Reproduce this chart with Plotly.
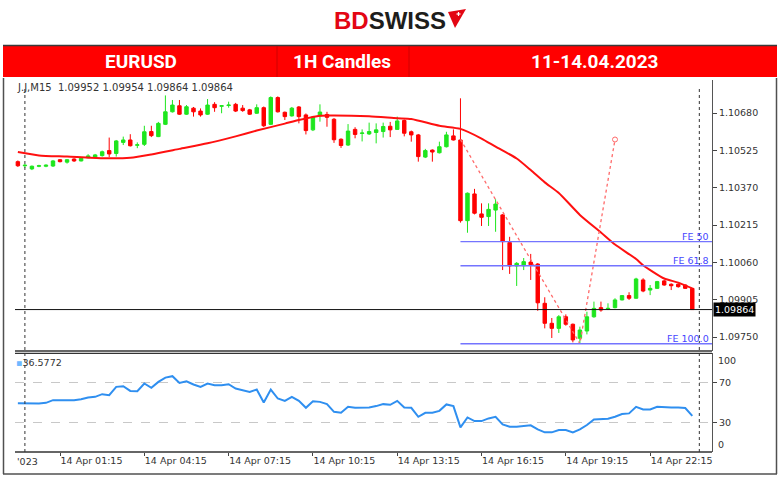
import pandas as pd
import plotly.graph_objects as go

W, H = 780, 478

# ---------------- data ----------------
start_time = "2023-04-13 23:45"
opens = [1.10478,1.10461,1.10448,1.10459,1.10459,1.10460,1.10486,1.10476,1.10489,1.10481,
         1.10494,1.10497,1.10503,1.10524,1.10512,1.10558,1.10568,1.10546,1.10550,1.10603,
         1.10582,1.10633,1.10685,1.10710,1.10675,1.10700,1.10688,1.10675,1.10716,1.10708,
         1.10711,1.10716,1.10700,1.10693,1.10679,1.10702,1.10633,1.10744,1.10683,1.10668,
         1.10705,1.10672,1.10610,1.10668,1.10674,1.10654,1.10571,1.10547,1.10612,1.10595,
         1.10593,1.10599,1.10603,1.10625,1.10612,1.10649,1.10602,1.10589,1.10497,1.10526,
         1.10515,1.10540,1.10585,1.10568,1.10233,1.10344,1.10261,1.10250,1.10277,1.10257,
         1.10142,1.10045,1.10046,1.10061,1.10053,1.09890,1.09807,1.09786,1.09834,1.09803,
         1.09745,1.09775,1.09834,1.09872,1.09867,1.09872,1.09904,1.09922,1.09911,1.09987,
         1.09945,1.09952,1.09983,1.09969,1.09969,1.09966,1.09952]
highs = [1.10483,1.10468,1.10462,1.10465,1.10467,1.10485,1.10489,1.10489,1.10492,1.10495,
         1.10509,1.10510,1.10524,1.10578,1.10568,1.10582,1.10592,1.10558,1.10627,1.10627,
         1.10643,1.10753,1.10734,1.10734,1.10713,1.10705,1.10699,1.10738,1.10725,1.10712,
         1.10727,1.10722,1.10713,1.10697,1.10716,1.10707,1.10749,1.10749,1.10686,1.10705,
         1.10709,1.10678,1.10668,1.10716,1.10685,1.10659,1.10575,1.10634,1.10621,1.10612,
         1.10640,1.10637,1.10640,1.10643,1.10665,1.10653,1.10607,1.10593,1.10531,1.10529,
         1.10561,1.10602,1.10612,1.10741,1.10350,1.10365,1.10305,1.10305,1.10322,1.10261,
         1.10166,1.10061,1.10078,1.10095,1.10057,1.09915,1.09829,1.09841,1.09844,1.09806,
         1.09793,1.09855,1.09897,1.09897,1.09890,1.09911,1.09924,1.09936,1.09996,1.09994,
         1.09966,1.09983,1.09987,1.09973,1.09973,1.09968,1.09954]
lows = [1.10456,1.10452,1.10443,1.10455,1.10455,1.10456,1.10475,1.10470,1.10477,1.10479,
        1.10492,1.10493,1.10499,1.10497,1.10499,1.10547,1.10541,1.10534,1.10543,1.10580,
        1.10580,1.10630,1.10682,1.10672,1.10672,1.10665,1.10665,1.10672,1.10685,1.10679,
        1.10702,1.10684,1.10685,1.10672,1.10676,1.10622,1.10630,1.10682,1.10651,1.10665,
        1.10637,1.10591,1.10605,1.10644,1.10623,1.10556,1.10535,1.10543,1.10575,1.10562,
        1.10589,1.10554,1.10578,1.10580,1.10610,1.10583,1.10561,1.10478,1.10493,1.10478,
        1.10512,1.10537,1.10566,1.10225,1.10183,1.10259,1.10211,1.10211,1.10187,1.10028,
        1.10012,1.09962,1.10028,1.09987,1.09859,1.09786,1.09746,1.09767,1.09797,1.09728,
        1.09724,1.09761,1.09830,1.09855,1.09862,1.09869,1.09902,1.09904,1.09909,1.09936,
        1.09924,1.09950,1.09963,1.09945,1.09955,1.09950,1.09864]
closes = [1.10461,1.10463,1.10459,1.10461,1.10463,1.10481,1.10478,1.10486,1.10481,1.10492,
          1.10502,1.10506,1.10519,1.10510,1.10564,1.10568,1.10544,1.10548,1.10602,1.10586,
          1.10637,1.10685,1.10713,1.10675,1.10706,1.10685,1.10672,1.10713,1.10702,1.10710,
          1.10713,1.10688,1.10690,1.10675,1.10702,1.10627,1.10744,1.10685,1.10665,1.10700,
          1.10665,1.10607,1.10663,1.10684,1.10662,1.10569,1.10545,1.10605,1.10591,1.10597,
          1.10603,1.10610,1.10624,1.10610,1.10647,1.10596,1.10589,1.10499,1.10524,1.10518,
          1.10540,1.10589,1.10568,1.10233,1.10347,1.10264,1.10247,1.10280,1.10302,1.10146,
          1.10045,1.10056,1.10063,1.10050,1.09892,1.09807,1.09786,1.09834,1.09803,1.09738,
          1.09779,1.09834,1.09869,1.09862,1.09869,1.09904,1.09922,1.09911,1.09991,1.09941,
          1.09952,1.09980,1.09966,1.09963,1.09959,1.09952,1.09864]

ma_idx = [0,3,7,12,16,19,23,27,31,34,38,40,43,45,50,54,56,60,63,66,68,71,73,75,77,80,83,85,88,89,92,94,96]
ma_val = [1.10518,1.10504,1.10499,1.10492,1.10494,1.10508,1.10531,1.10554,1.10583,1.10607,1.10636,
          1.10651,1.10669,1.10670,1.10666,1.10658,1.10655,1.10627,1.10614,1.10574,1.10540,1.10491,
          1.10443,1.10392,1.10348,1.10257,1.10184,1.10134,1.10074,1.10048,1.09993,1.09976,1.09952]

rsi = [49.5,49.2,49.2,49.2,49.8,52.5,52.5,52.5,52.5,53.5,
       55.2,55.9,58.6,57.6,66.0,66.6,61.9,61.6,69.4,65.0,
       71.0,75.4,76.8,70.0,71.7,68.4,66.0,69.4,67.7,67.7,
       68.7,64.3,62.6,60.9,63.3,50.2,63.3,54.2,51.8,55.9,
       51.8,44.8,51.5,50.8,48.5,40.7,39.7,45.8,44.8,44.8,
       45.2,46.5,48.5,47.8,51.8,45.1,44.8,35.7,39.7,39.7,
       41.7,48.2,46.5,24.9,35.0,31.3,31.3,34.0,35.7,28.0,
       25.6,25.6,26.3,27.0,22.9,19.9,19.9,22.2,22.2,19.9,
       22.9,27.3,33.0,33.3,33.7,35.7,38.4,39.1,45.8,43.1,
       43.1,45.8,45.8,45.1,45.0,44.5,36.5772]

# Fibonacci expansion points (A high, B low, C)
fe_times = ["2023-04-14 15:30", "2023-04-14 19:45", "2023-04-14 21:00"]
fe_prices = [1.10570, 1.09722, 1.10570]
fe_ratios = [0.5, 0.618, 1.0]
fe_labels = ["FE 50", "FE 61.8", "FE 100.0"]

price_ticks = [1.10680, 1.10525, 1.10370, 1.10215, 1.10060, 1.09905, 1.09750]
rsi_ticks = [30, 70]
time_ticks = ["2023-04-14 01:15", "2023-04-14 04:15", "2023-04-14 07:15", "2023-04-14 10:15",
              "2023-04-14 13:15", "2023-04-14 16:15", "2023-04-14 19:15", "2023-04-14 22:15"]
time_labels = ["14 Apr 01:15", "14 Apr 04:15", "14 Apr 07:15", "14 Apr 10:15",
               "14 Apr 13:15", "14 Apr 16:15", "14 Apr 19:15", "14 Apr 22:15"]
day_separators = ["2023-04-14 00:00", "2023-04-15 00:00"]
x_range = ["2023-04-13 23:38:52", "2023-04-15 00:27:05"]
y_range = [1.09692, 1.10817]
bid = closes[-1]

header_texts = ["EURUSD", "1H Candles", "11-14.04.2023"]

# ---------------- helpers for layout positions ----------------
def px(x):
    return x / W

def py(y):
    return 1 - y / H

times = [t.strftime("%Y-%m-%d %H:%M") for t in pd.date_range(start_time, periods=len(opens), freq="15min")]

FONT = "DejaVu Sans"
GREEN = "#1ee61e"
RED = "#ff0000"

fig = go.Figure()

fig.add_trace(go.Candlestick(
    x=times, open=opens, high=highs, low=lows, close=closes,
    increasing=dict(line=dict(color=GREEN, width=1), fillcolor=GREEN),
    decreasing=dict(line=dict(color=RED, width=1), fillcolor=RED),
    xaxis="x", yaxis="y", showlegend=False, hoverinfo="skip"))

fig.add_trace(go.Scatter(
    x=[times[i] for i in ma_idx], y=ma_val, mode="lines",
    line=dict(color="#ff1010", width=2, shape="spline", smoothing=0.6),
    xaxis="x", yaxis="y", showlegend=False, hoverinfo="skip"))

fig.add_trace(go.Scatter(
    x=fe_times, y=fe_prices, mode="lines",
    line=dict(color="#ff6a6a", width=1.3, dash="dot"),
    xaxis="x", yaxis="y", showlegend=False, hoverinfo="skip"))
fig.add_trace(go.Scatter(
    x=[fe_times[-1]], y=[fe_prices[-1]], mode="markers",
    marker=dict(symbol="circle-open", size=5, color="#ff6a6a", line=dict(width=1)),
    xaxis="x", yaxis="y", showlegend=False, hoverinfo="skip"))

fig.add_trace(go.Scatter(
    x=times, y=rsi, mode="lines", line=dict(color="#2f8ff0", width=2),
    xaxis="x2", yaxis="y2", showlegend=False, hoverinfo="skip"))

shapes = []
annotations = []

# header
shapes.append(dict(type="rect", xref="paper", yref="paper", x0=px(3), x1=px(777), y0=py(77), y1=py(46),
                   fillcolor="#ff0000", line=dict(width=0), layer="below"))
shapes.append(dict(type="line", xref="paper", yref="paper", x0=px(3), x1=px(777), y0=py(45.5), y1=py(45.5),
                   line=dict(color="#3a3a3a", width=1.5)))
for xd in (277, 409):
    shapes.append(dict(type="line", xref="paper", yref="paper", x0=px(xd), x1=px(xd), y0=py(77), y1=py(46),
                       line=dict(color="#d00000", width=1)))
for txt, cx in zip(header_texts, (141, 342, 595)):
    annotations.append(dict(text="<b>" + txt + "</b>", xref="paper", yref="paper", x=px(cx), y=py(62),
                            xanchor="center", yanchor="middle", showarrow=False,
                            font=dict(family="Liberation Sans Narrow, Roboto", size=19, color="white")))

# logo
annotations.append(dict(text="<b><span style='color:#e30613'>BD</span><span style='color:#1d1d1b'>SWISS</span></b>",
                        xref="paper", yref="paper", x=px(390), y=py(20), xanchor="center", yanchor="middle",
                        showarrow=False, font=dict(family="Liberation Sans", size=24)))
shapes.append(dict(type="path", xref="paper", yref="paper",
                   path=f"M {px(448)} {py(12)} L {px(466)} {py(9)} L {px(455)} {py(28)} Z",
                   fillcolor="#e30613", line=dict(width=0)))
shapes.append(dict(type="line", xref="paper", yref="paper", x0=px(456.5), x1=px(460.5), y0=py(14), y1=py(14),
                   line=dict(color="white", width=1.2)))
shapes.append(dict(type="line", xref="paper", yref="paper", x0=px(458.5), x1=px(458.5), y0=py(12), y1=py(16),
                   line=dict(color="white", width=1.2)))

# outer frame
shapes.append(dict(type="line", xref="paper", yref="paper", x0=px(3.5), x1=px(3.5), y0=py(78), y1=py(474),
                   line=dict(color="#505050", width=1.5)))
shapes.append(dict(type="line", xref="paper", yref="paper", x0=px(776.5), x1=px(776.5), y0=py(78), y1=py(474),
                   line=dict(color="#505050", width=1.5)))
shapes.append(dict(type="line", xref="paper", yref="paper", x0=px(3), x1=px(777), y0=py(474), y1=py(474),
                   line=dict(color="#505050", width=1.5)))

# panel separators
for yy in (351, 353.3, 452):
    shapes.append(dict(type="line", xref="paper", yref="paper", x0=px(15), x1=px(712), y0=py(yy), y1=py(yy),
                       line=dict(color="#333333", width=1.3)))

# day separators
for d in day_separators:
    shapes.append(dict(type="line", xref="x", yref="paper", x0=d, x1=d, y0=py(452), y1=py(87),
                       line=dict(color="#333333", width=1, dash="dot")))

# bid line
shapes.append(dict(type="line", xref="paper", yref="y", x0=px(15), x1=px(712), y0=bid, y1=bid,
                   line=dict(color="#111111", width=1)))
annotations.append(dict(text=f"{bid:.5f}", xref="paper", yref="y", x=px(713), y=bid, xanchor="left",
                        yanchor="middle", showarrow=False, bgcolor="#000000", borderpad=1,
                        font=dict(family=FONT, size=9.5, color="white")))

# fibo expansion levels
a, b, c = fe_prices
for r, lab in zip(fe_ratios, fe_labels):
    lvl = c - r * (a - b)
    shapes.append(dict(type="line", xref="x", yref="y", x0=fe_times[0], x1=x_range[1], y0=lvl, y1=lvl,
                       line=dict(color="#7474ff", width=1.4)))
    annotations.append(dict(text=lab, xref="paper", yref="y", x=px(711), y=lvl, xanchor="right",
                            yanchor="bottom", showarrow=False, yshift=-2,
                            font=dict(family=FONT, size=9.5, color="#4646ff")))

# info texts
annotations.append(dict(text=f"J.J,M15  {opens[-1]:.5f} {highs[-1]:.5f} {lows[-1]:.5f} {closes[-1]:.5f}",
                        xref="paper", yref="paper", x=px(15), y=py(87), xanchor="left", yanchor="middle",
                        showarrow=False, font=dict(family=FONT, size=10, color="#333333")))
annotations.append(dict(text=f"<span style='color:#6fb8ff'>▪</span>{rsi[-1]:.4f}",
                        xref="paper", yref="paper", x=px(14), y=py(362), xanchor="left", yanchor="middle",
                        showarrow=False, font=dict(family=FONT, size=9.5, color="#333333")))
annotations.append(dict(text="'023", xref="paper", yref="paper", x=px(15), y=py(461), xanchor="left",
                        yanchor="middle", showarrow=False, font=dict(family=FONT, size=9.5, color="#333333")))
annotations.append(dict(text="100", xref="paper", yref="y2", x=px(716), y=100, xanchor="left", yanchor="top",
                        showarrow=False, font=dict(family=FONT, size=9.5, color="#333333")))
annotations.append(dict(text="0", xref="paper", yref="y2", x=px(716), y=0, xanchor="left", yanchor="bottom",
                        showarrow=False, font=dict(family=FONT, size=9.5, color="#333333")))

x_dom = [px(15), px(712)]
fig.update_layout(
    width=W, height=H, margin=dict(l=0, r=0, t=0, b=0),
    paper_bgcolor="white", plot_bgcolor="white",
    font=dict(family=FONT, size=9.5, color="#333333"),
    showlegend=False,
    xaxis=dict(domain=x_dom, range=x_range, anchor="y", showticklabels=False, showgrid=False,
               zeroline=False, ticks="", rangeslider=dict(visible=False), fixedrange=True),
    yaxis=dict(domain=[py(351), py(80)], range=y_range, side="right", anchor="x",
               tickvals=price_ticks, tickformat=".5f", ticks="outside", ticklen=4, tickcolor="#444",
               showgrid=False, zeroline=False, showline=True, linecolor="#555555", linewidth=1,
               tickfont=dict(family=FONT, size=9.5, color="#333333")),
    xaxis2=dict(domain=x_dom, range=x_range, anchor="y2", matches="x", showgrid=False, zeroline=False,
                tickvals=time_ticks, ticktext=time_labels, ticks="outside", ticklen=3, tickcolor="#444",
                ticklabelposition="outside right", tickfont=dict(family=FONT, size=9.5, color="#333333")),
    yaxis2=dict(domain=[py(452), py(353.3)], range=[0, 100], side="right", anchor="x2",
                tickvals=rsi_ticks, ticks="outside", ticklen=4, tickcolor="#444",
                showgrid=True, gridcolor="#c8c8c8", griddash="dash", gridwidth=1,
                zeroline=False, showline=True, linecolor="#555555", linewidth=1,
                tickfont=dict(family=FONT, size=9.5, color="#333333")),
    shapes=shapes, annotations=annotations,
)

fig.write_html("out.html", config={"displayModeBar": False},
               post_script="document.body.style.margin='0px';document.body.style.padding='0px';")
